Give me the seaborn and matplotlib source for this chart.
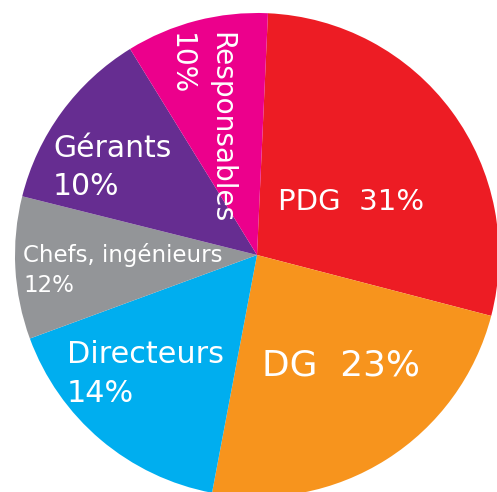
import matplotlib.pyplot as plt
import seaborn as sns

# parts of the pie, clockwise from the top
categories = ["PDG", "DG", "Directeurs", "Chefs, ingénieurs", "Gérants", "Responsables"]
shares = [28.3, 23.9, 16.4, 9.5, 12.3, 9.5]  # wedge sizes as drawn
pct_labels = ["31%", "23%", "14%", "12%", "10%", "10%"]  # percentages as printed
colors = ["#ED1C24", "#F7941D", "#00AEEF", "#939598", "#662D91", "#EC008C"]

sns.set_theme(style="white")
plt.rcParams['font.family'] = ['DejaVu Sans']

W, H = 497, 492
cx, cy, R = 257, 255, 242  # pie centre and radius in pixels

fig = plt.figure(figsize=(W / 100, H / 100), dpi=100)
ax = fig.add_axes([0, 0, 1, 1])
ax.pie(shares, colors=colors, startangle=87.4, counterclock=False, radius=1,
       wedgeprops=dict(linewidth=0))
ax.set_xlim(-cx / R, (W - cx) / R)
ax.set_ylim(-(H - cy) / R, cy / R)
ax.set_aspect('auto')
ax.axis('off')


def px(x, y):
    # pixel position -> data coords
    return (x - cx) / R, (cy - y) / R


def label(x, y, s, size, **kw):
    ax.text(*px(x, y), s, color='white', fontsize=size, **kw)


# PDG / DG on one line
label(278, 210, categories[0] + "  " + pct_labels[0], 21, ha='left', va='baseline')
label(262, 375, categories[1] + "  " + pct_labels[1], 25.8, ha='left', va='baseline')
# two-line labels
label(67, 363, categories[2], 21.8, ha='left', va='baseline')
label(67, 402, pct_labels[2], 21.8, ha='left', va='baseline')
label(23, 262, categories[3], 16.5, ha='left', va='baseline')
label(23, 292, pct_labels[3], 16.5, ha='left', va='baseline')
label(53, 157, categories[4], 21.5, ha='left', va='baseline')
label(53, 195, pct_labels[4], 21.5, ha='left', va='baseline')
# rotated labels in the magenta wedge
label(221, 32, categories[5], 20.2, ha='center', va='top', rotation=-90)
label(181, 33, pct_labels[5], 20.2, ha='center', va='top', rotation=-90)

fig.savefig('out.png', dpi=100)
